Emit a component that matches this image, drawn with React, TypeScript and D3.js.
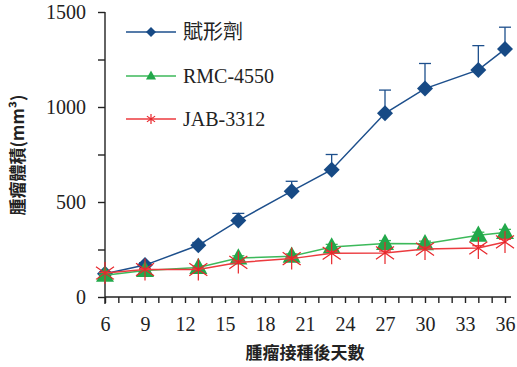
import React, { useEffect, useRef } from 'react';
import * as d3 from 'd3';

const days = [6, 9, 13, 16, 20, 23, 27, 30, 34, 36];
const seriesNames = ['賦形劑', 'RMC-4550', 'JAB-3312'];
const vehicle = [122, 168, 272, 402, 557, 670, 967, 1097, 1195, 1305];
const vehicleErr = [8, 12, 15, 38, 52, 80, 122, 132, 128, 115];
const rmc = [115, 140, 155, 205, 215, 263, 282, 280, 325, 340];
const rmcErr = [5, 6, 8, 12, 12, 14, 15, 14, 16, 16];
const jab = [126, 145, 145, 182, 202, 230, 232, 252, 258, 290];
const jabErr = [4, 5, 6, 8, 8, 10, 10, 10, 12, 14];
const xTicks = [6, 9, 12, 15, 18, 21, 24, 27, 30, 33, 36];
const yTicks = [0, 500, 1000, 1500];

const colors = ['#174a85', '#22a84a', '#e8262b'];
const lineColors = ['#1d4f8c', '#3cb95a', '#ec3a3e'];

const App: React.FC = () => {
  const svgRef = useRef<SVGSVGElement>(null);

  useEffect(() => {
    if (!svgRef.current) return;
    const svg = d3.select(svgRef.current);
    svg.selectAll('*').remove();

    const x = d3.scaleLinear().domain([6, 36]).range([105, 505]);
    const y = d3.scaleLinear().domain([0, 1500]).range([297, 12]);

    const serif = '"Liberation Serif", "DejaVu Serif", serif';
    const cjk = '"Noto Sans CJK TC", "Noto Sans CJK SC", sans-serif';

    // axes
    const yAxis = svg.append('g').attr('transform', 'translate(105,0)')
      .call(d3.axisLeft(y).tickValues(d3.range(0, 1501, 250)).tickSize(7).tickFormat(d => (yTicks.includes(+d) ? String(d) : '')).tickPadding(12));
    yAxis.select('.domain').attr('d', `M0,${y(1500)}V${y(0) + 7}`);
    yAxis.selectAll('text').style('font-family', serif).style('font-size', '20px').attr('fill', '#222');
    yAxis.selectAll('line, path').attr('stroke', '#222').attr('stroke-width', 1.4);

    const xAxis = svg.append('g').attr('transform', `translate(0,${y(0)})`)
      .call(d3.axisBottom(x).tickValues(d3.range(6, 37, 1)).tickSize(6).tickFormat(d => (xTicks.includes(+d) ? String(d) : '')).tickPadding(14));
    xAxis.select('.domain').attr('d', `M${x(6)},0H${x(36) + 6}`);
    xAxis.selectAll('text').style('font-family', serif).style('font-size', '20px').attr('fill', '#222');
    xAxis.selectAll('line, path').attr('stroke', '#222').attr('stroke-width', 1.4);

    svg.append('text')
      .attr('transform', `translate(24,155) rotate(-90)`)
      .attr('text-anchor', 'middle')
      .style('font-family', cjk).style('font-size', '17px').style('font-weight', 'bold')
      .attr('fill', '#222')
      .text('腫瘤體積(mm³)');

    svg.append('text')
      .attr('x', 305).attr('y', 359)
      .attr('text-anchor', 'middle')
      .style('font-family', cjk).style('font-size', '17px').style('font-weight', 'bold')
      .attr('fill', '#222')
      .text('腫瘤接種後天數');

    const all = [
      { vals: vehicle, err: vehicleErr },
      { vals: rmc, err: rmcErr },
      { vals: jab, err: jabErr },
    ];

    const drawMarker = (g: any, i: number, cx: number, cy: number, s: number) => {
      if (i === 0) {
        g.append('path')
          .attr('d', `M${cx},${cy - s}L${cx + s},${cy}L${cx},${cy + s}L${cx - s},${cy}Z`)
          .attr('fill', colors[0]);
      } else if (i === 1) {
        const h = s * 1.8;
        g.append('path')
          .attr('d', `M${cx},${cy - h * 0.6}L${cx + s},${cy + h * 0.4}L${cx - s},${cy + h * 0.4}Z`)
          .attr('fill', colors[1]);
      } else {
        const r = s;
        const p = [0, 55, 125].map(a => {
          const t = ((a + 90) * Math.PI) / 180;
          return `M${cx + r * Math.cos(t)},${cy + r * Math.sin(t)}L${cx - r * Math.cos(t)},${cy - r * Math.sin(t)}`;
        }).join('');
        g.append('path').attr('d', p).attr('stroke', colors[2]).attr('stroke-width', 1.2).attr('fill', 'none');
      }
    };

    const line = d3.line<number>().x((_, j) => x(days[j])).y(d => y(d));

    all.forEach((s, i) => {
      const g = svg.append('g');
      // error bars
      s.vals.forEach((v, j) => {
        const cx = x(days[j]);
        g.append('line').attr('x1', cx).attr('x2', cx).attr('y1', y(v)).attr('y2', y(v + s.err[j]))
          .attr('stroke', lineColors[i]).attr('stroke-width', 1.3);
        g.append('line').attr('x1', cx - 6).attr('x2', cx + 6).attr('y1', y(v + s.err[j])).attr('y2', y(v + s.err[j]))
          .attr('stroke', lineColors[i]).attr('stroke-width', 1.3);
      });
      g.append('path').datum(s.vals).attr('d', line).attr('fill', 'none')
        .attr('stroke', lineColors[i]).attr('stroke-width', 1.5);
      s.vals.forEach((v, j) => {
        drawMarker(g, i, x(days[j]), y(v), i === 0 ? 8 : i === 1 ? 9 : 11);
      });
    });

    // legend
    const legendY = [32, 76, 119];
    seriesNames.forEach((name, i) => {
      const g = svg.append('g');
      g.append('line').attr('x1', 126).attr('x2', 176).attr('y1', legendY[i]).attr('y2', legendY[i])
        .attr('stroke', lineColors[i]).attr('stroke-width', 1.5);
      drawMarker(g, i, 151, legendY[i], 5);
      g.append('text').attr('x', 183).attr('y', legendY[i] + 7)
        .style('font-family', i === 0 ? cjk : serif).style('font-size', '20px')
        .attr('fill', '#222').text(name);
    });
  }, []);

  return (
    <svg
      ref={svgRef}
      width={517}
      height={367}
      style={{ display: 'block', position: 'absolute', left: 0, top: 0, background: '#fff' }}
    />
  );
};

export default App;
